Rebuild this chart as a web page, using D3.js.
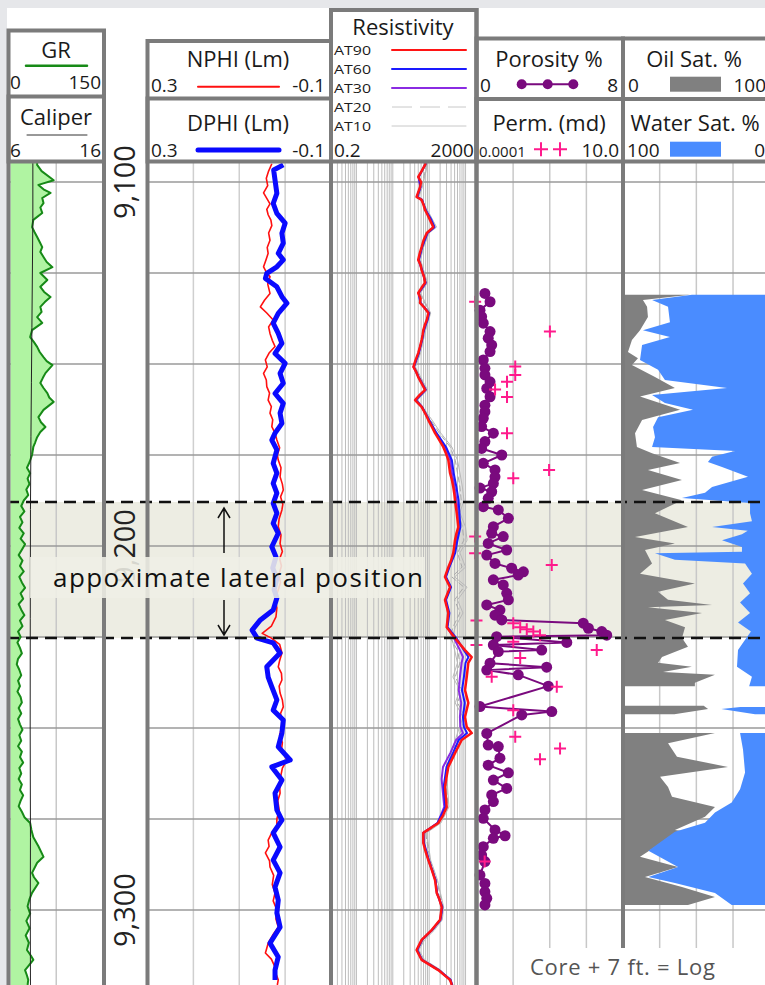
<!DOCTYPE html>
<html>
<head>
<meta charset="utf-8">
<script src="https://cdn.jsdelivr.net/npm/d3@7"></script>
<style>
body { margin: 0; background: #e6e7ea; }
svg { display: block; font-family: "Open Sans", sans-serif; }
</style>
</head>
<body>
<svg id="chart" width="765" height="985"></svg>
<script>
// ---------------- data (depth in ft, value in curve units) ----------------
var depthLabels = [9100, 9200, 9300];
var gridDepths = [9100, 9125, 9150, 9175, 9200, 9225, 9250, 9275, 9300];
var lateralTop = 9187.9, lateralBase = 9225.3;

var gr = [[9094.8,45],[9095.3,45],[9097,52],[9099.5,71],[9100.8,47],[9102,55],[9103.0,66],[9104.4,53],[9105.8,55],[9107,50],[9108.5,53],[9110.4,39],[9112.4,37],[9113.8,41],[9115.1,45],[9116.5,49],[9117.9,53],[9119.2,50],[9120.6,55],[9122,60],[9123.4,69],[9125.0,50],[9126.9,61],[9128.8,50],[9130.2,56],[9131.6,66],[9133,57],[9134.3,50],[9135.7,52],[9137.1,45],[9138.7,53],[9140.7,37],[9142.6,34],[9144,40],[9145.3,45],[9146.7,49],[9148.1,55],[9149.2,60],[9150.3,69],[9152.5,58],[9153.8,54],[9155.2,50],[9156.6,55],[9158.0,61],[9159.2,64],[9160.4,71],[9162.6,55],[9164.6,47],[9166,51],[9167.3,58],[9168.7,50],[9170.1,45],[9171.5,42],[9172.8,39],[9175.0,37],
  [9177,33],[9178.5,29],[9180,34],[9181.5,30],[9183,33],[9184.5,28],[9186,31],[9187.5,24],[9189,20],[9190.5,25],[9192,18],[9193.5,22],[9195,17],[9196.5,24],[9198,19],[9199.5,26],[9201,21],[9202.5,16],[9204,22],[9205.5,18],[9207,24],[9208.5,17],[9210,21],[9211.5,26],[9213,19],[9214.5,23],[9216,16],[9217.5,20],[9219,25],[9220.5,18],[9222,22],[9223.5,15],[9225,19],[9226.5,14],[9228,18],[9229.5,21],[9231,15],[9232.5,13],[9234,17],[9235.5,20],[9237,15],[9238.5,18],[9240,14],[9241.5,19],[9243,21],[9244.5,16],[9246,20],[9247.5,15],[9249,18],[9250.5,22],[9252,17],[9253.5,20],[9255,15],[9256.5,21],[9258,18],[9259.5,23],[9261,17],[9262.5,20],[9264,16],[9265.5,21],[9267,18],[9268.5,23],[9270,19],[9271.5,16],[9273,21],[9274.5,25],
  [9276.1,34],[9278,36],[9280,39],[9282.5,47],[9285.4,55],[9287,45],[9289.8,37],[9291,40],[9292.6,47],[9295.3,37],[9297,33],[9299,30],[9301,34],[9303,28],[9305,33],[9307,27],[9309,32],[9311,29],[9312.5,35],[9313.7,39],[9315,33],[9316.5,26],[9318,29],[9319.2,31],[9320.6,30]];

var caliper = [[9094.8,8.55],[9110,8.55],[9125,8.5],[9140,8.45],[9155,8.4],[9170,8.35],[9190,8.3],[9220,8.28],[9250,8.27],[9280,8.3],[9300,8.28],[9320.6,8.3]];

var nphi = [[9095,0.029],[9097,0.036],[9099,0.041],[9101,0.038],[9103,0.047],[9104.5,0.040],[9106,0.033],[9107.5,0.040],[9109,0.037],[9110.5,0.031],[9112,0.029],[9114,0.036],[9116,0.033],[9118,0.039],[9119.6,0.037],[9121.5,0.042],[9123.3,0.047],[9125,0.040],[9126,0.033],[9128,0.038],[9130.6,0.033],[9132.5,0.045],[9134.3,0.054],[9136,0.040],[9137.9,0.026],[9139.8,0.036],[9141.6,0.033],[9143.5,0.028],[9145.2,0.022],[9147,0.035],[9148.9,0.043],[9150.8,0.039],[9152.6,0.047],[9154.4,0.041],[9156.2,0.040],[9158,0.034],[9159.9,0.037],[9161.7,0.030],[9163.5,0.033],[9165.3,0.027],[9167.2,0.029],[9169,0.022],[9170.9,0.018],[9173,0.012],[9175,0.017],[9176.4,0.015],[9178.5,0.009],[9181,0.011],[9183,0.006],[9184.6,0.004],[9186.5,0.010],[9188.5,0.005],[9190.1,0.007],[9192.5,0.013],[9194.7,0.015],[9197,0.009],[9199.3,0.011],[9201.5,0.006],[9203.5,0.012],[9205.5,0.008],[9208,0.014],[9210,0.010],[9212.5,0.016],[9214.5,0.022],[9217,0.018],[9219.5,0.020],[9222,0.030],[9224,0.050],[9225.3,0.030],[9227,0.012],[9229.4,0.007],[9231.5,0.012],[9233.2,0.015],[9235,0.008],[9236.8,0.007],[9238.5,0.013],[9240.4,0.011],[9242.3,0.006],[9244.2,0.004],[9246,0.010],[9247.8,0.007],[9249.7,0.007],[9252,0.012],[9254,0.006],[9256,0.008],[9258.8,-0.004],[9261,0.006],[9263.5,0.010],[9266,0.012],[9267.9,0.011],[9270,0.016],[9272.5,0.013],[9275,0.018],[9277.2,0.018],[9279,0.030],[9280.8,0.037],[9282.5,0.035],[9284.3,0.043],[9286.5,0.034],[9288.2,0.033],[9290.5,0.025],[9293,0.028],[9295.3,0.022],[9297.5,0.026],[9300,0.018],[9302.5,0.020],[9304.7,0.015],[9306.5,0.025],[9309.1,0.037],[9310.5,0.040],[9311.8,0.043],[9313.5,0.030],[9315.7,0.022],[9317.5,0.020],[9319.2,0.015],[9320.6,0.017]];

var dphi = [[9095.3,0.004],[9096.7,0.025],[9099.5,0.022],[9103.1,0.018],[9105.9,0.026],[9108.6,0.018],[9111.3,0.000],[9114.1,0.007],[9116.8,0.004],[9119.6,0.015],[9121.4,0.004],[9123.3,0.018],[9125.1,0.040],[9126.5,0.043],[9128.8,0.018],[9131.5,0.007],[9133.3,-0.004],[9136.1,0.015],[9138.8,0.026],[9141.6,0.015],[9144.3,0.007],[9147.1,0.022],[9149.8,0.000],[9152.6,0.011],[9155.3,0.004],[9158.1,0.022],[9160.8,0.004],[9163.5,0.011],[9166.3,0.007],[9169.0,0.022],[9170.9,0.029],[9173.6,0.018],[9177.3,0.026],[9180.0,0.018],[9182.8,0.026],[9185.5,0.018],[9188.3,0.026],[9191.0,0.018],[9193.8,0.026],[9196.5,0.015],[9200.2,0.029],[9203,0.020],[9206,0.027],[9209,0.018],[9212,0.024],[9214.3,0.018],[9217.6,0.026],[9220.3,0.054],[9223.1,0.072],[9225.3,0.061],[9226.6,0.026],[9229.4,0.011],[9233.2,0.040],[9236.0,0.037],[9238.7,0.029],[9242.3,0.018],[9245.1,0.026],[9247.8,0.004],[9251.4,0.007],[9255.2,0.015],[9258.8,-0.011],[9260.7,0.029],[9264.3,0.007],[9267.9,0.022],[9272.5,0.018],[9275.3,0.007],[9278.8,0.026],[9282.7,0.011],[9286.3,0.026],[9289.8,0.011],[9293.7,0.022],[9297.3,0.015],[9300.8,0.018],[9304.7,0.011],[9309.1,0.033],[9312.9,0.015],[9316.5,0.022],[9319.2,0.022]];

var at90 = [[9094.8,80],[9095.3,77],[9097,62],[9098.6,50],[9100,60],[9101.4,56],[9104.1,45],[9104.9,62],[9106.3,70],[9107.7,77],[9109,90],[9110.4,105],[9112.4,130],[9114.0,86],[9116,70],[9117.9,62],[9119.6,55],[9121.4,50],[9122.8,58],[9124.2,62],[9126,72],[9127.7,77],[9129,62],[9130.5,50],[9132,58],[9133.2,56],[9134.6,75],[9136.0,95],[9137.9,86],[9139.3,76],[9140.7,69],[9142,66],[9143.4,62],[9145.2,56],[9147.0,50],[9149,42],[9150.8,37],[9152.2,44],[9153.6,50],[9155.3,62],[9157.1,77],[9158.5,55],[9159.9,41],[9161.8,62],[9163.6,78],[9165.4,95],[9167.2,118],[9169.0,145],[9170.9,190],[9172.8,244],[9174.6,290],[9176.4,336],[9179.9,374],[9181.8,420],[9183.8,460],[9185.6,490],[9187.4,513],[9190.9,571],[9194.8,632],[9196.6,560],[9198.4,513],[9201.9,460],[9204,400],[9205.8,336],[9208.5,272],[9211.3,374],[9214.8,272],[9218.4,336],[9222.3,303],[9225.3,513],[9228.6,966],[9230.5,1476],[9232.1,1191],[9236.0,1077],[9239.6,966],[9243.1,1191],[9247.0,966],[9249.7,1077],[9251.4,1476],[9253.3,783],[9256.9,513],[9260.7,336],[9263.5,300],[9266.2,272],[9271.7,303],[9274,240],[9276.1,178],[9278.8,69],[9281.6,69],[9284,80],[9286.3,95],[9289,118],[9291.8,145],[9295.3,161],[9297,190],[9299.2,221],[9302.7,199],[9305.5,117],[9308.2,62],[9311.0,45],[9313.7,62],[9316.5,178],[9319.2,374],[9320.6,420]];

var at60 = [[9094.8,82],[9095.3,78],[9098.6,52],[9101.4,58],[9104.1,47],[9104.9,64],[9107.7,80],[9110.4,115],[9112.4,140],[9114.0,90],[9117.9,64],[9121.4,52],[9124.2,64],[9127.7,80],[9130.5,52],[9133.2,58],[9136.0,100],[9137.9,90],[9140.7,72],[9143.4,64],[9147.0,52],[9150.8,38],[9153.6,52],[9157.1,80],[9159.9,43],[9161.8,64],[9165.4,100],[9169.0,160],[9172.8,290],[9176.4,420],[9179.9,470],[9183.8,560],[9187.4,640],[9190.9,680],[9194.8,720],[9198.4,600],[9201.9,520],[9205.8,360],[9208.5,290],[9211.3,400],[9214.8,290],[9218.4,360],[9222.3,320],[9225.3,560],[9228.6,900],[9230.5,1200],[9232.1,1000],[9236.0,900],[9239.6,800],[9243.1,950],[9247.0,850],[9249.7,900],[9251.4,1100],[9253.3,650],[9256.9,450],[9260.7,300],[9266.2,250],[9271.7,280],[9276.1,170],[9278.8,70],[9281.6,72],[9286.3,98],[9291.8,150],[9295.3,165],[9299.2,230],[9302.7,205],[9305.5,120],[9308.2,64],[9311.0,47],[9313.7,64],[9316.5,185],[9319.2,390],[9320.6,430]];

var at30 = [[9094.8,80],[9095.3,76],[9098.6,51],[9101.4,57],[9104.1,46],[9104.9,63],[9107.7,79],[9110.4,110],[9112.4,135],[9114.0,88],[9117.9,63],[9121.4,51],[9124.2,63],[9127.7,79],[9130.5,51],[9133.2,57],[9136.0,98],[9137.9,88],[9140.7,70],[9143.4,63],[9147.0,51],[9150.8,37],[9153.6,51],[9157.1,79],[9159.9,42],[9161.8,63],[9165.4,98],[9169.0,155],[9172.8,270],[9176.4,380],[9179.9,420],[9183.8,500],[9187.4,560],[9190.9,620],[9194.8,680],[9198.4,560],[9201.9,490],[9205.8,350],[9208.5,280],[9211.3,380],[9214.8,280],[9218.4,340],[9222.3,310],[9225.3,480],[9228.6,700],[9230.5,850],[9232.1,780],[9236.0,700],[9239.6,650],[9243.1,760],[9247.0,700],[9249.7,720],[9251.4,850],[9253.3,550],[9256.9,380],[9260.7,240],[9264,220],[9266.2,230],[9271.7,260],[9276.1,170],[9278.8,68],[9281.6,70],[9286.3,96],[9291.8,148],[9295.3,162],[9299.2,225],[9302.7,200],[9305.5,118],[9308.2,63],[9311.0,46],[9313.7,63],[9316.5,180],[9319.2,380],[9320.6,425]];

var at20 = [[9094.8,88],[9095.3,85],[9101.4,62],[9104.1,50],[9107.7,85],[9112.4,150],[9114,95],[9117.9,68],[9121.4,55],[9127.7,85],[9130.5,55],[9136,105],[9140.7,75],[9147,55],[9150.8,40],[9157.1,85],[9159.9,45],[9165.4,110],[9169,190],[9172.8,380],[9176.4,520],[9179.9,600],[9183.8,700],[9187.4,760],[9190.9,640],[9194.8,820],[9198.4,900],[9201.9,600],[9205.8,800],[9208.5,420],[9211.3,900],[9214.8,500],[9218.4,700],[9222.3,450],[9225.3,380],[9228.6,600],[9232.1,700],[9236,520],[9239.6,800],[9243.1,600],[9247,1000],[9251.4,700],[9256.9,450],[9260.7,330],[9266.2,300],[9271.7,330],[9276.1,200],[9278.8,80],[9286.3,105],[9291.8,160],[9299.2,240],[9302.7,220],[9305.5,130],[9308.2,70],[9311,50],[9313.7,70],[9316.5,200],[9320.6,450]];

var at10 = [[9094.8,92],[9095.3,90],[9101.4,65],[9104.1,52],[9107.7,90],[9112.4,160],[9114,100],[9117.9,70],[9121.4,58],[9127.7,90],[9130.5,58],[9136,110],[9140.7,80],[9147,58],[9150.8,42],[9157.1,90],[9159.9,48],[9165.4,120],[9169,210],[9172.8,420],[9176.4,600],[9179.9,700],[9183.8,820],[9187.4,900],[9190.9,700],[9194.8,1000],[9198.4,1100],[9201.9,700],[9205.8,1000],[9208.5,500],[9211.3,1100],[9214.8,600],[9218.4,850],[9222.3,520],[9225.3,420],[9228.6,500],[9232.1,600],[9236,450],[9239.6,700],[9243.1,520],[9247,850],[9251.4,600],[9256.9,400],[9260.7,300],[9266.2,320],[9271.7,350],[9276.1,210],[9278.8,85],[9286.3,110],[9291.8,170],[9299.2,250],[9302.7,230],[9305.5,140],[9308.2,75],[9311,52],[9313.7,75],[9316.5,210],[9320.6,460]];

var porosity = [[9130.6,0.46],[9132.9,0.74],[9135.2,0.19],[9137.0,0.28],[9138.8,0.37],[9141.1,0.74],[9142.9,0.64],[9144.8,0.83],[9146.6,0.74],[9148.9,0.37],[9151.2,0.46],[9153.0,0.46],[9154.9,0.74],[9156.7,0.56],[9159.0,0.74],[9161.3,0.46],[9163.1,0.46],[9164.9,0.37],[9167.2,0.28],[9169.0,0.92],[9171.3,0.46],[9173.2,0.28],[9175.0,1.38],[9177.3,0.37],[9179.1,1.01],[9181.0,1.01],[9182.8,0.92],[9184.1,0.19],[9185.1,0.83],[9186.9,0.64],[9189.2,0.37],[9190.1,1.19],[9192.4,1.74],[9194.7,0.92],[9196.5,0.83],[9197.4,1.46],[9199.3,0.64],[9201.1,1.65],[9202.5,0.56],[9204.8,1.01],[9206.1,1.92],[9207.1,2.56],[9208.0,2.28],[9209.3,0.92],[9210.7,1.46],[9213.0,1.65],[9214.8,1.74],[9216.2,0.56],[9217.6,1.28],[9219.0,1.01],[9220.3,1.38],[9221.2,5.83],[9222.6,6.11],[9223.5,6.84],[9224.5,7.11],[9224.9,1.10],[9226.5,4.93],[9227.2,0.92],[9228.6,3.56],[9229.0,1.19],[9232.2,0.74],[9233.3,3.83],[9234.1,0.56],[9235.4,2.28],[9238.5,3.92],[9244.1,0.19],[9245.5,4.11],[9246.4,2.47],[9251.5,0.56],[9254.7,0.64],[9255.1,1.19],[9258.3,1.28],[9260.2,0.64],[9262.3,1.74],[9264.3,0.92],[9266.6,1.65],[9268.4,0.83],[9270.2,0.92],[9272.5,0.46],[9274.8,0.37],[9278.0,1.01],[9279.6,1.56],[9280.3,0.92],[9282.6,0.37],[9284.9,0.28],[9286.7,0.46],[9290.4,0.19],[9292.7,0.46],[9295.0,0.46],[9296.8,0.56],[9298.6,0.46]];

var perm = [[9132.9,0.00009],[9141.1,0.032],[9150.7,0.0021],[9153.0,0.0021],[9154.9,0.0011],[9157.0,0.00043],[9159.1,0.0011],[9169.0,0.0011],[9179.1,0.030],[9181.4,0.0018],[9197.4,0.00009],[9202.0,0.00009],[9205.2,0.037],[9220.5,0.0001],[9221.2,0.0018],[9222.3,0.0031],[9222.9,0.0052],[9223.5,0.0087],[9224.5,0.0147],[9226.3,0.0018],[9227.2,0.0001],[9228.6,1.27],[9230.8,0.0031],[9235.9,0.00033],[9238.7,0.055],[9245.1,0.0018],[9252.4,0.0021],[9255.6,0.071],[9258.6,0.0147],[9286.7,0.00019]];

var oilSat = [[9131.0,45.7],[9132.4,13.6],[9134.3,16.4],[9137.1,17],[9140.7,11.6],[9143.4,6.1],[9146.7,3.4],[9148.4,10.2],[9150.3,6.1],[9153.6,21.8],[9156.6,35.4],[9158.9,11.6],[9162.6,38.9],[9165.4,13],[9169.0,8.2],[9172.8,9.5],[9174.5,19.8],[9177.2,38.9],[9179.1,17],[9181.9,40.2],[9184.6,13],[9187.4,40.2],[9191.0,21.8],[9194.8,44.3],[9197.5,8.2],[9199.3,35.4],[9201.1,15],[9204.8,19.8],[9207.6,11.6],[9210.3,49],[9212.6,23.9],[9214.8,30.7],[9216.2,60.7],[9216.8,17],[9218.4,53.9],[9220.3,28.6],[9222.3,42.3],[9225.3,40.2],[9227.7,44.3],[9230.5,26.6],[9232.1,23.9],[9233.2,47],[9234.6,27.3],[9235.4,62.7],[9237.6,49],[9238.5,49],[9238.6,null],
  [9243.9,55],[9244.8,58],[9246.2,35],[9246.3,null],
  [9251.4,62.7],[9254.2,30.7],[9257.9,36.8],[9260.7,71.6],[9263.4,25.2],[9266.2,30.7],[9268.9,33.4],[9271.7,62.7],[9274.4,55.9],[9278.0,35.4],[9279.9,69.5],[9282.7,21.8],[9285.4,11.6],[9288.2,37.5],[9290.9,15],[9293.7,40.2],[9296.4,62.7],[9298.6,44.3]];

var waterSat = [[9131.0,53],[9132.4,80.2],[9134.3,69.3],[9138.5,68],[9140.7,86.4],[9142.6,68],[9144.8,87],[9148.9,88.4],[9151.6,76.1],[9154.4,71.4],[9156.6,29.1],[9158.5,80.2],[9160.7,71.4],[9162.6,52.3],[9164.6,76.1],[9167.3,79.5],[9170.1,78.2],[9172.8,80.2],[9173.9,23.7],[9175.5,39.3],[9176.9,42.1],[9178.3,32.5],[9181.0,14.8],[9183.8,39.3],[9185.4,44.1],[9186.8,59.8],[9188.2,13.4],[9191.0,13.4],[9193.2,12.1],[9194.8,39.3],[9195.8,15],[9196.8,18.9],[9198.4,32.5],[9200.3,18.9],[9201.6,18.9],[9202.0,78.2],[9203.8,64.6],[9204.8,16.8],[9207.6,12.1],[9210.3,18.2],[9213,13.4],[9215.5,20.2],[9218.4,13.4],[9221,21.6],[9223.5,12.8],[9226.6,18.2],[9228.6,21.6],[9233.2,22.3],[9235.9,12.1],[9238.5,14],[9238.6,null],
  [9244.2,20],[9244.8,33],[9246.2,10],[9246.3,null],
  [9251.4,20.2],[9255.9,18.2],[9262.2,16.8],[9266.8,20.2],[9270.5,25.9],[9273.2,37.3],[9276.0,44.1],[9278.5,64.6],[9283.7,82.7],[9288.2,62.5],[9290.9,82.7],[9292.6,64.6],[9295.3,37.3],[9298.6,25.9]];

// ---------------- layout ----------------
var svg = d3.select("#chart");
var bottom = 985, dataTop = 161.5;
var borderColor = "#7b7b7b";

var y = d3.scaleLinear().domain([9100, 9300]).range([182, 910]);

var t1 = [8.5, 104], t2 = [147.5, 331], t3 = [331, 476.5], t4 = [476.5, 623], t5 = [623, 769.7];

var xGR = d3.scaleLinear().domain([0, 150]).range(t1);
var xCal = d3.scaleLinear().domain([6, 16]).range(t1);
var xPhi = d3.scaleLinear().domain([0.3, -0.1]).range(t2);
var xRes = d3.scaleLog().domain([0.2, 2000]).range(t3);
var xPor = d3.scaleLinear().domain([0, 8]).range(t4);
var xPerm = d3.scaleLog().domain([0.0001, 10]).range(t4);
var xOil = d3.scaleLinear().domain([0, 100]).range(t5);
var xWat = d3.scaleLinear().domain([100, 0]).range(t5);

// page
svg.append("rect").attr("x", 7).attr("y", 8).attr("width", 765).attr("height", 985).attr("fill", "#fff");

// lateral band (behind everything)
svg.append("rect").attr("x", 7).attr("y", y(lateralTop)).attr("width", 760)
  .attr("height", y(lateralBase) - y(lateralTop)).attr("fill", "#ededE3");

// clip paths
var defs = svg.append("defs");
function addClip(id, t) {
  defs.append("clipPath").attr("id", id).append("rect")
    .attr("x", t[0] + 2).attr("y", dataTop).attr("width", t[1] - t[0] - 4).attr("height", bottom - dataTop);
}
addClip("c1", t1); addClip("c2", t2); addClip("c3", t3); addClip("c4", t4); addClip("c5", t5);

// grids
function hGrid(t) {
  svg.append("g").selectAll("line").data(gridDepths).enter().append("line")
    .attr("x1", t[0]).attr("x2", t[1]).attr("y1", function(d) { return y(d); }).attr("y2", function(d) { return y(d); })
    .attr("stroke", "#9a9a9a").attr("stroke-width", 1.5);
}
function vGrid(vals, sc, col, w) {
  svg.append("g").selectAll("line").data(vals).enter().append("line")
    .attr("x1", function(d) { return sc(d); }).attr("x2", function(d) { return sc(d); })
    .attr("y1", dataTop).attr("y2", bottom)
    .attr("stroke", col).attr("stroke-width", w);
}
vGrid([75], xGR, "#c8c8c8", 1.5);
vGrid([0.2, 0.1, 0.0], xPhi, "#cfcfcf", 1.5);
vGrid(xRes.ticks().filter(function(v) { return v > 0.2 && v < 2000; }), xRes, "#bdbdbd", 1);
vGrid([2, 4, 6], xPor, "#c8c8c8", 1.5);
vGrid([25, 50, 75], xOil, "#c8c8c8", 1.5);
[t1, t2, t3, t4, t5].forEach(hGrid);

// generic curve drawer
function curve(data, sc, clip, color, width, dash) {
  var line = d3.line()
    .defined(function(d) { return d[1] != null; })
    .x(function(d) { return sc(d[1]); })
    .y(function(d) { return y(d[0]); });
  var p = svg.append("path").datum(data)
    .attr("clip-path", "url(#" + clip + ")")
    .attr("d", line).attr("fill", "none")
    .attr("stroke", color).attr("stroke-width", width)
    .attr("stroke-linejoin", "round");
  if (dash) p.attr("stroke-dasharray", dash);
  return p;
}

// track 1: GR + caliper
svg.append("path").datum(gr).attr("clip-path", "url(#c1)")
  .attr("d", d3.area().x0(xGR(0)).x1(function(d) { return xGR(d[1]); }).y(function(d) { return y(d[0]); }))
  .attr("fill", "#b0f4a2");
curve(gr, xGR, "c1", "#178a17", 2);
curve(caliper, xCal, "c1", "#222", 1);

// track 2: NPHI / DPHI
curve(nphi, xPhi, "c2", "#ff1010", 1.6);
curve(dphi, xPhi, "c2", "#0a0aff", 5);

// track 3: resistivity
curve(at10, xRes, "c3", "#b9b9b9", 1);
curve(at20, xRes, "c3", "#a9a9a9", 1, "6,3");
curve(at30, xRes, "c3", "#8a2be2", 2);
curve(at60, xRes, "c3", "#1a1aff", 2);
curve(at90, xRes, "c3", "#ff1414", 2.5);

// track 5: saturations
svg.append("path").datum(oilSat).attr("clip-path", "url(#c5)")
  .attr("d", d3.area().defined(function(d) { return d[1] != null; })
    .x0(xOil(0)).x1(function(d) { return xOil(d[1]); }).y(function(d) { return y(d[0]); }))
  .attr("fill", "#808080");
svg.append("path").datum(waterSat).attr("clip-path", "url(#c5)")
  .attr("d", d3.area().defined(function(d) { return d[1] != null; })
    .x0(xWat(0)).x1(function(d) { return xWat(d[1]); }).y(function(d) { return y(d[0]); }))
  .attr("fill", "#4a8cff");

// track 4: porosity + perm
curve(porosity, xPor, "c4", "#7a0a7e", 2);
svg.append("g").selectAll("circle").data(porosity).enter().append("circle")
  .attr("cx", function(d) { return xPor(d[1]); }).attr("cy", function(d) { return y(d[0]); })
  .attr("r", 5.5).attr("fill", "#7a0a7e");
function cross(g, cx, cy, s) {
  g.append("path").attr("d", "M" + (cx - s) + "," + cy + "H" + (cx + s) + "M" + cx + "," + (cy - s) + "V" + (cy + s))
    .attr("stroke", "#ff1a8c").attr("stroke-width", 2).attr("fill", "none");
}
var permG = svg.append("g");
perm.forEach(function(d) { cross(permG, xPerm(d[1]), y(d[0]), 6); });

// dashed lateral lines
[lateralTop, lateralBase].forEach(function(d) {
  svg.append("line").attr("x1", 7).attr("x2", 765).attr("y1", y(d)).attr("y2", y(d))
    .attr("stroke", "#111").attr("stroke-width", 2.5).attr("stroke-dasharray", "12,7");
});

// depth labels
svg.append("g").selectAll("text").data(depthLabels).enter().append("text")
  .attr("transform", function(d) { return "translate(135," + y(d) + ") rotate(-90)"; })
  .attr("text-anchor", "middle").attr("font-size", 29).attr("fill", "#222")
  .text(function(d) { return d3.format(",")(d); });

// track borders and headers
function box(x0, x1, y0, y1) {
  svg.append("rect").attr("x", x0).attr("y", y0).attr("width", x1 - x0).attr("height", y1 - y0)
    .attr("fill", "none").attr("stroke", borderColor).attr("stroke-width", 4);
}
box(t1[0], t1[1], 30.5, 1100); box(t1[0], t1[1], 96.5, dataTop);
box(t2[0], t2[1], 41, 1100); box(t2[0], t2[1], 98.5, dataTop);
box(t3[0], t3[1], 10, 1100); box(t3[0], t3[1], 10, dataTop);
box(t4[0], t4[1], 38.5, 1100); box(t4[0], t4[1], 99, dataTop);
box(t5[0], t5[1], 38.5, 1100); box(t5[0], t5[1], 99, dataTop);

function txt(x, yy, s, size, anchor, color) {
  return svg.append("text").attr("x", x).attr("y", yy).attr("font-size", size)
    .attr("text-anchor", anchor || "start").attr("fill", color || "#1a1a1a").text(s);
}
function hline(x0, x1, yy, color, w, dash) {
  var l = svg.append("line").attr("x1", x0).attr("x2", x1).attr("y1", yy).attr("y2", yy)
    .attr("stroke", color).attr("stroke-width", w).attr("stroke-linecap", "round");
  if (dash) l.attr("stroke-dasharray", dash).attr("stroke-linecap", "butt");
}

var titleSize = 22, labelSize = 19;

// track 1 header
txt(56, 58, "GR", titleSize, "middle");
hline(26, 87, 65.7, "#178a17", 2.5);
txt(10, 89, "0", labelSize); txt(101, 89, "150", labelSize, "end");
txt(56, 125, "Caliper", titleSize, "middle");
hline(27, 87, 135, "#333", 1);
txt(10, 157, "6", labelSize); txt(101, 157, "16", labelSize, "end");

// track 2 header
txt(238, 67, "NPHI (Lm)", titleSize, "middle");
hline(198, 279, 86.7, "#ff1010", 2);
txt(151, 92, "0.3", labelSize); txt(325, 92, "-0.1", labelSize, "end");
txt(238, 131, "DPHI (Lm)", titleSize, "middle");
hline(198, 279, 150, "#0a0aff", 5);
txt(151, 157, "0.3", labelSize); txt(325, 157, "-0.1", labelSize, "end");

// track 3 header
var resNames = ["AT90", "AT60", "AT30", "AT20", "AT10"];
var resColors = ["#ff1414", "#1a1aff", "#8a2be2", "#c8c8c8", "#c8c8c8"];
var resRowY = [55, 74, 93, 112, 131];
txt(403, 35, "Resistivity", titleSize, "middle");
resNames.forEach(function(n, i) {
  txt(334, resRowY[i], n, 13.5).attr("textLength", 37).attr("lengthAdjust", "spacingAndGlyphs");
  hline(392, 466, resRowY[i] - 5, resColors[i], i < 3 ? 2 : 1, i == 3 ? "20,8" : null);
});
txt(334, 157, "0.2", labelSize); txt(474, 157, "2000", labelSize, "end");

// track 4 header
txt(549, 67, "Porosity %", titleSize, "middle");
var legDots = [521.7, 547.7, 573.3];
hline(legDots[0], legDots[2], 84.3, "#7a0a7e", 2);
legDots.forEach(function(cx) { svg.append("circle").attr("cx", cx).attr("cy", 84.3).attr("r", 5).attr("fill", "#7a0a7e"); });
txt(480, 92, "0", labelSize); txt(618, 92, "8", labelSize, "end");
txt(549, 131, "Perm. (md)", titleSize, "middle");
txt(479, 157, "0.0001", 15);
cross(svg, 541, 149.3, 7); cross(svg, 560, 149.3, 7);
txt(619, 157, "10.0", labelSize, "end");

// track 5 header
txt(694, 67, "Oil Sat. %", titleSize, "middle");
svg.append("rect").attr("x", 670).attr("y", 76.7).attr("width", 51).attr("height", 15).attr("fill", "#808080");
txt(628, 92, "0", labelSize); txt(766, 92, "100", labelSize, "end");
txt(695, 131, "Water Sat. %", titleSize, "middle");
svg.append("rect").attr("x", 670).attr("y", 141.7).attr("width", 51).attr("height", 15).attr("fill", "#4a8cff");
txt(627, 157, "100", labelSize); txt(765, 157, "0", labelSize, "end");

// annotation box
svg.append("rect").attr("x", 30).attr("y", 557).attr("width", 395).attr("height", 41)
  .attr("fill", "#efefe6").attr("fill-opacity", 0.88);
txt(53, 587, "appoximate lateral position", 26, "start", "#111")
  .attr("textLength", 370).attr("lengthAdjust", "spacing");
var arrowX = 224;
svg.append("path").attr("d", "M" + arrowX + "," + 553 + "V" + 508 + "M" + (arrowX - 6) + "," + 518 + "L" + arrowX + "," + 508 + "L" + (arrowX + 6) + "," + 518)
  .attr("fill", "none").attr("stroke", "#111").attr("stroke-width", 1.5);
svg.append("path").attr("d", "M" + arrowX + "," + 600 + "V" + 635 + "M" + (arrowX - 6) + "," + 625 + "L" + arrowX + "," + 635 + "L" + (arrowX + 6) + "," + 625)
  .attr("fill", "none").attr("stroke", "#111").attr("stroke-width", 1.5);

// core shift note
svg.append("rect").attr("x", 521).attr("y", 948).attr("width", 250).attr("height", 40).attr("fill", "#fff");
txt(530, 975, "Core + 7 ft. = Log", 22, "start", "#555")
  .attr("textLength", 185).attr("lengthAdjust", "spacing");
</script>
</body>
</html>
